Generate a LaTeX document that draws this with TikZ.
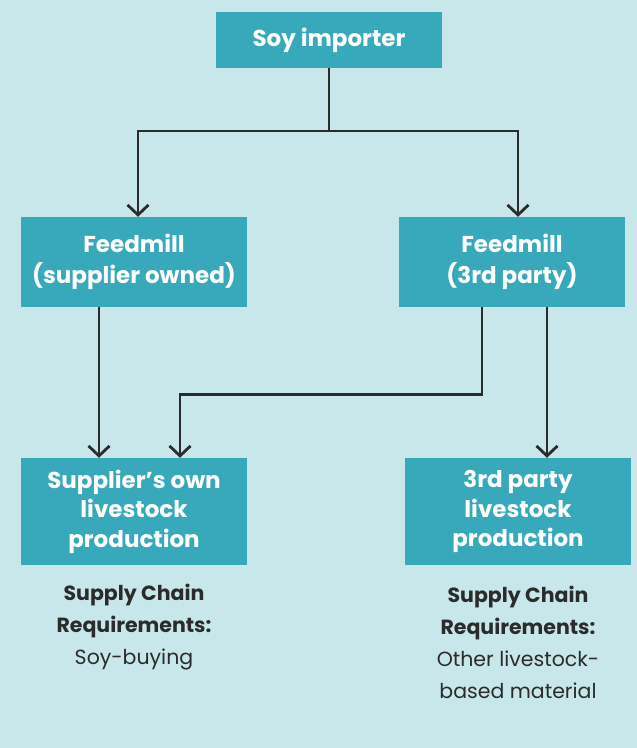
\documentclass[tikz,border=0pt]{standalone}
\usepackage{fontspec}
\setmainfont{Poppins}
\usetikzlibrary{arrows.meta, positioning}
\definecolor{bgblue}{HTML}{C8E7EA}
\definecolor{boxteal}{HTML}{37A9BA}
\definecolor{inkgrey}{HTML}{2B2B2B}
\tikzset{
  box/.style={rectangle, fill=boxteal, text=white, align=center, inner sep=0pt,
    minimum width=226pt, font=\fontsize{23}{31}\selectfont\bfseries},
  link/.style={draw=inkgrey, line width=2.8pt,
    -{Straight Barb[length=10pt,width=21pt,line width=2.8pt]}},
  req/.style={text=inkgrey, align=center, font=\fontsize{20.5}{32}\selectfont}
}
\begin{document}
\begin{tikzpicture}[x=1pt,y=-1pt]
        \fill[bgblue] (0,0) rectangle (637,748);
        \node[box, minimum height=56pt] (importer) at (329,40) {Soy importer};
        \node[box, minimum height=90pt] (millown) at (134,262) {Feedmill\\(supplier owned)};
        \node[box, minimum height=90pt] (millthird) at (512,262) {Feedmill\\(3rd party)};
        \node[box, minimum height=107pt, font=\fontsize{23}{29.5}\selectfont\bfseries] (farmown) at (134,511.5) {Supplier’s own\\livestock\\production};
        \node[box, minimum height=107pt, font=\fontsize{23}{29.5}\selectfont\bfseries] (farmthird) at (518,511.5) {3rd party\\livestock\\production};
        \node[req] (reqown) at (134,627) {\textbf{Supply Chain}\\\textbf{Requirements:}\\Soy-buying};
        \node[req] (reqthird) at (518,642) {\textbf{Supply Chain}\\\textbf{Requirements:}\\Other livestock-\\based material};
        \coordinate (split) at (329,131);
        \draw[draw=inkgrey, line width=2.8pt] (importer.south) -- (split);
        \draw[link] (split) -| ([xshift=4pt] millown.north);
        \draw[link] (split) -| ([xshift=6pt] millthird.north);
        \draw[link] ([xshift=-35pt] millown.south) -- ([xshift=-35pt] farmown.north);
        \draw[link] ([xshift=-30pt] millthird.south) -- ++(0,87) -| ([xshift=46pt] farmown.north);
        \draw[link] ([xshift=35pt] millthird.south) -- ([xshift=29pt] farmthird.north);
    \end{tikzpicture}
\end{document}
